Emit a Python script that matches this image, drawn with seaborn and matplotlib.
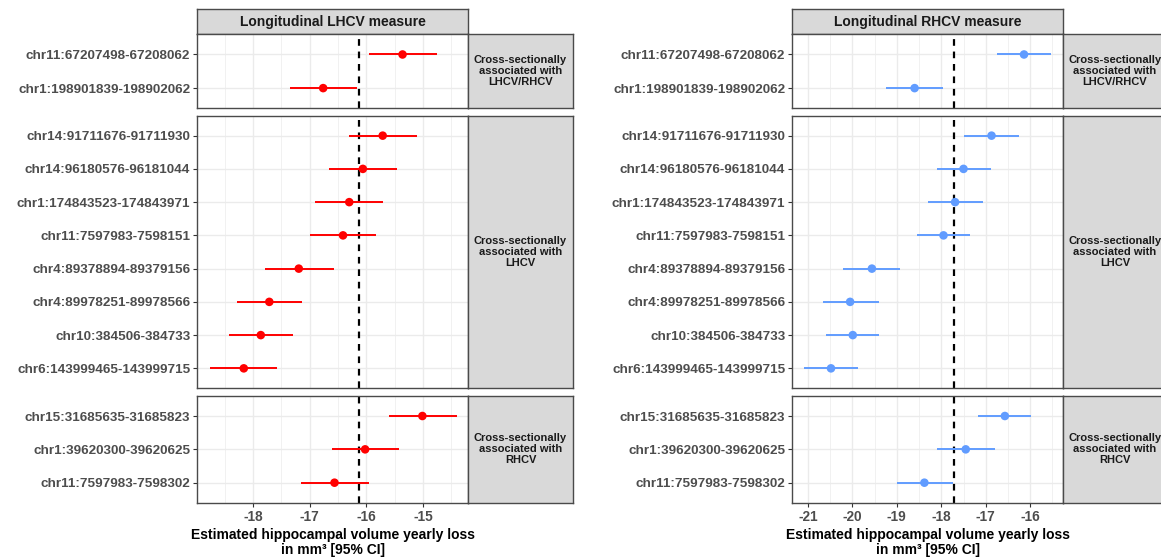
import matplotlib
matplotlib.use("Agg")
import matplotlib.pyplot as plt
import seaborn as sns
import numpy as np

sns.set_theme(style="white")
plt.rcParams['font.family'] = ['Liberation Sans', 'DejaVu Sans']

# ---------------- data ----------------
groups = ["Cross-sectionally\nassociated with\nLHCV/RHCV",
          "Cross-sectionally\nassociated with\nLHCV",
          "Cross-sectionally\nassociated with\nRHCV"]

labels_g1 = ["chr11:67207498-67208062", "chr1:198901839-198902062"]
labels_g2 = ["chr14:91711676-91711930", "chr14:96180576-96181044",
             "chr1:174843523-174843971", "chr11:7597983-7598151",
             "chr4:89378894-89379156", "chr4:89978251-89978566",
             "chr10:384506-384733", "chr6:143999465-143999715"]
labels_g3 = ["chr15:31685635-31685823", "chr1:39620300-39620625",
             "chr11:7597983-7598302"]

# Longitudinal LHCV measure
lhcv_est_g1 = [-15.36, -16.76]
lhcv_lo_g1 = [-15.96, -17.35]
lhcv_hi_g1 = [-14.75, -16.17]
lhcv_est_g2 = [-15.71, -16.06, -16.30, -16.41, -17.19, -17.71, -17.86, -18.16]
lhcv_lo_g2 = [-16.31, -16.66, -16.91, -17.00, -17.79, -18.28, -18.42, -18.76]
lhcv_hi_g2 = [-15.11, -15.46, -15.70, -15.82, -16.57, -17.13, -17.30, -17.57]
lhcv_est_g3 = [-15.01, -16.02, -16.56]
lhcv_lo_g3 = [-15.59, -16.61, -17.15]
lhcv_hi_g3 = [-14.40, -15.43, -15.96]
lhcv_ref = -16.12

# Longitudinal RHCV measure
rhcv_est_g1 = [-16.14, -18.60]
rhcv_lo_g1 = [-16.74, -19.24]
rhcv_hi_g1 = [-15.54, -17.97]
rhcv_est_g2 = [-16.87, -17.50, -17.69, -17.95, -19.56, -20.05, -19.99, -20.48]
rhcv_lo_g2 = [-17.48, -18.10, -18.30, -18.54, -20.20, -20.67, -20.60, -21.08]
rhcv_hi_g2 = [-16.25, -16.88, -17.07, -17.35, -18.93, -19.41, -19.39, -19.88]
rhcv_est_g3 = [-16.57, -17.45, -18.38]
rhcv_lo_g3 = [-17.17, -18.09, -19.00]
rhcv_hi_g3 = [-15.99, -16.79, -17.74]
rhcv_ref = -17.71

titles = ["Longitudinal LHCV measure", "Longitudinal RHCV measure"]
xticks_l = [-18, -17, -16, -15]
xticks_r = [-21, -20, -19, -18, -17, -16]
xlabel = "Estimated hippocampal volume yearly loss\nin mm³ [95% CI]"

# ---------------- layout ----------------
W, H = 1161, 557
fig = plt.figure(figsize=(W / 100, H / 100), dpi=100)

def rect(x0, y0, x1, y1):
    return [x0 / W, 1 - y1 / H, (x1 - x0) / W, (y1 - y0) / H]

panel_rows = [(34.3, 108.3), (115.7, 388.3), (396.0, 502.7)]
cols = [(197.3, 468.3), (792.3, 1062.7)]
strip_w = 104.4

border_col = "#4a4a4a"
strip_bg = "#D9D9D9"
text_col = "#4D4D4D"

panels = [
    dict(color="#FF0000", ref=lhcv_ref, xlim=(-18.98, -14.2), xticks=xticks_l,
         data=[(labels_g1, lhcv_est_g1, lhcv_lo_g1, lhcv_hi_g1),
               (labels_g2, lhcv_est_g2, lhcv_lo_g2, lhcv_hi_g2),
               (labels_g3, lhcv_est_g3, lhcv_lo_g3, lhcv_hi_g3)]),
    dict(color="#619CFF", ref=rhcv_ref, xlim=(-21.35, -15.27), xticks=xticks_r,
         data=[(labels_g1, rhcv_est_g1, rhcv_lo_g1, rhcv_hi_g1),
               (labels_g2, rhcv_est_g2, rhcv_lo_g2, rhcv_hi_g2),
               (labels_g3, rhcv_est_g3, rhcv_lo_g3, rhcv_hi_g3)]),
]

for ci, (pan, (x0, x1)) in enumerate(zip(panels, cols)):
    # title strip
    sax = fig.add_axes(rect(x0, 9.3, x1, 34.3))
    sax.set_facecolor(strip_bg)
    sax.set_xticks([]); sax.set_yticks([])
    for sp in sax.spines.values():
        sp.set_color(border_col); sp.set_linewidth(1.0)
    sax.text(0.5, 0.5, titles[ci], ha="center", va="center", fontsize=10,
             fontweight="bold", color="#1A1A1A", transform=sax.transAxes)

    for ri, ((y0, y1), (labs, est, lo, hi)) in enumerate(zip(panel_rows, pan["data"])):
        ax = fig.add_axes(rect(x0, y0, x1, y1))
        n = len(labs)
        pos = np.arange(n)
        ax.set_facecolor("white")
        ax.set_xticks(pan["xticks"])
        ax.set_xticks([t + 0.5 for t in pan["xticks"][:-1]] +
                      [pan["xticks"][0] - 0.5, pan["xticks"][-1] + 0.5], minor=True)
        ax.set_yticks(pos)
        ax.set_yticklabels(labs)
        ax.grid(which="major", color="#EBEBEB", linewidth=1.0)
        ax.grid(which="minor", axis="x", color="#EBEBEB", linewidth=0.5)
        ax.set_axisbelow(True)
        ax.axvline(pan["ref"], color="black", linewidth=1.6, linestyle=(0, (3.0, 2.6)), zorder=2)
        ax.hlines(pos, lo, hi, color=pan["color"], linewidth=1.4, zorder=3)
        sns.scatterplot(x=est, y=pos, ax=ax, color=pan["color"], s=38,
                        edgecolor="none", linewidth=0, zorder=4, legend=False)
        ax.set_ylim(n - 0.4, -0.6)
        ax.set_xlim(*pan["xlim"])
        ax.tick_params(axis="y", which="major", length=3, width=0.8, color="#333333",
                       labelsize=9.7, labelcolor=text_col, pad=2, left=True)
        ax.tick_params(axis="x", which="both", length=0)
        for t in ax.get_yticklabels():
            t.set_fontweight("bold")
        if ri == 2:
            ax.tick_params(axis="x", which="major", length=3, width=0.8, color="#333333",
                           labelsize=9.8, labelcolor=text_col, pad=2, bottom=True)
            ax.set_xticklabels([f"-{abs(v)}" for v in pan["xticks"]])
            for t in ax.get_xticklabels():
                t.set_fontweight("bold")
            ax.set_xlabel(xlabel, fontsize=10, fontweight="bold", color="black",
                          labelpad=3, linespacing=1.1)
        else:
            ax.set_xticklabels([])
            ax.set_xlabel("")
        ax.set_ylabel("")
        for sp in ax.spines.values():
            sp.set_color(border_col); sp.set_linewidth(1.0); sp.set_visible(True)

        # right strip
        rax = fig.add_axes(rect(x1, y0, x1 + strip_w, y1))
        rax.set_facecolor(strip_bg)
        rax.set_xticks([]); rax.set_yticks([])
        for sp in rax.spines.values():
            sp.set_color(border_col); sp.set_linewidth(1.0)
        rax.text(0.5, 0.5, groups[ri], ha="center", va="center", fontsize=8,
                 fontweight="bold", color="#1A1A1A", transform=rax.transAxes,
                 linespacing=1.12)

fig.savefig("out.png", dpi=100)
